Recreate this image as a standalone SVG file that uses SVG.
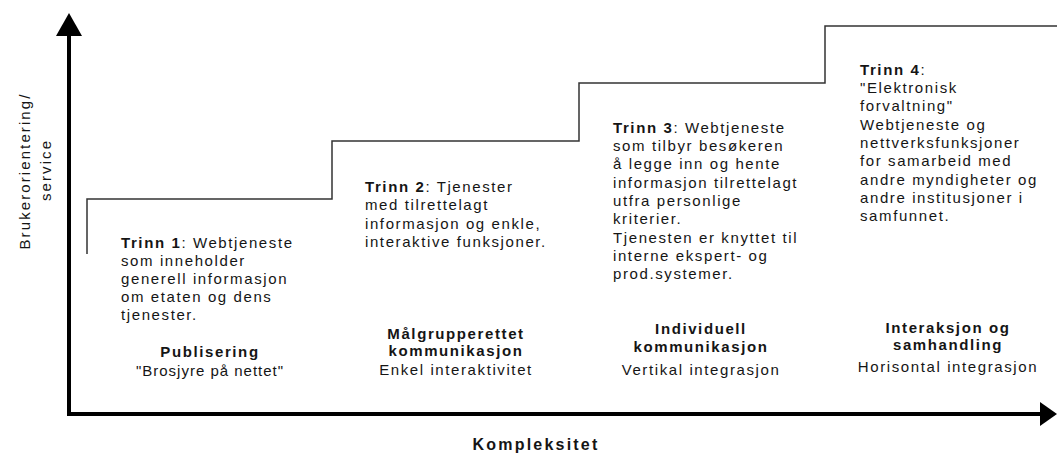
<svg xmlns="http://www.w3.org/2000/svg" width="1057" height="453" viewBox="0 0 1057 453">
<style>
text{font-family:"Liberation Sans",Arial,sans-serif;font-size:15px;letter-spacing:1.6px;fill:#151515}
.b{font-weight:bold}
.c{text-anchor:middle}
.ax{stroke:#000;stroke-width:4;fill:none}
.st{stroke:#333;stroke-width:1.5;fill:none}
</style>
<rect width="1057" height="453" fill="#fff"/>
<g id="connectors">
<path class="ax" d="M69,415 V34"/>
<path d="M56,36 L69,13 L82,36 Z" fill="#000"/>
<path class="ax" d="M67,414 H1042"/>
<path d="M1040,402 L1057,414 L1040,426 Z" fill="#000"/>
<path class="st" d="M87,254 V199 H332 V141 H579 V83 H825 V26 H1057"/>
</g>
<g id="yaxis-label">
<text class="c" style="letter-spacing:2.1px" transform="translate(30,171) rotate(-90)">Brukerorientering/</text>
<text class="c" style="letter-spacing:2.1px" transform="translate(51,170) rotate(-90)">service</text>
</g>
<g id="xaxis-label"><text class="b c" style="font-size:16px;letter-spacing:2.2px" x="536" y="450">Kompleksitet</text></g>
<g id="trinn1">
<text x="121" y="248"><tspan class="b">Trinn 1</tspan>: Webtjeneste</text>
<text x="121" y="266">som inneholder</text>
<text x="121" y="284">generell informasjon</text>
<text x="121" y="302">om etaten og dens</text>
<text x="121" y="320">tjenester.</text>
<text class="b c" x="210" y="357">Publisering</text>
<text class="c" x="210" y="376" style="letter-spacing:1px">"Brosjyre på nettet"</text>
</g>
<g id="trinn2">
<text x="365" y="192"><tspan class="b">Trinn 2</tspan>: Tjenester</text>
<text x="365" y="210">med tilrettelagt</text>
<text x="365" y="229">informasjon og enkle,</text>
<text x="365" y="247">interaktive funksjoner.</text>
<text class="b c" x="456" y="339">Målgrupperettet</text>
<text class="b c" x="456" y="356">kommunikasjon</text>
<text class="c" x="456" y="375">Enkel interaktivitet</text>
</g>
<g id="trinn3">
<text x="613" y="133"><tspan class="b">Trinn 3</tspan>: Webtjeneste</text>
<text x="613" y="151">som tilbyr besøkeren</text>
<text x="613" y="169">å legge inn og hente</text>
<text x="613" y="188">informasjon tilrettelagt</text>
<text x="613" y="206">utfra personlige</text>
<text x="613" y="224">kriterier.</text>
<text x="613" y="243">Tjenesten er knyttet til</text>
<text x="613" y="261">interne ekspert- og</text>
<text x="613" y="279">prod.systemer.</text>
<text class="b c" x="701" y="334">Individuell</text>
<text class="b c" x="701" y="352">kommunikasjon</text>
<text class="c" x="701" y="375">Vertikal integrasjon</text>
</g>
<g id="trinn4">
<text x="860" y="75"><tspan class="b">Trinn 4</tspan>:</text>
<text x="860" y="93">"Elektronisk</text>
<text x="860" y="111">forvaltning"</text>
<text x="860" y="130">Webtjeneste og</text>
<text x="860" y="148">nettverksfunksjoner</text>
<text x="860" y="166">for samarbeid med</text>
<text x="860" y="185">andre myndigheter og</text>
<text x="860" y="203">andre institusjoner i</text>
<text x="860" y="221">samfunnet.</text>
<text class="b c" x="948" y="333">Interaksjon og</text>
<text class="b c" x="948" y="350">samhandling</text>
<text class="c" x="948" y="372">Horisontal integrasjon</text>
</g>
</svg>
